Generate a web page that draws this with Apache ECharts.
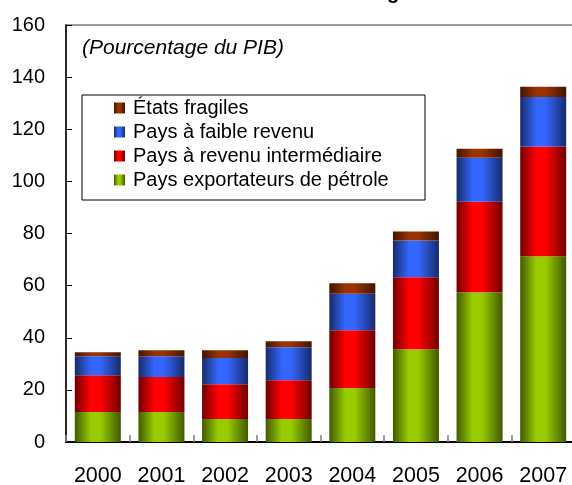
<!DOCTYPE html>
<html>
<head>
<meta charset="utf-8">
<script src="https://cdn.jsdelivr.net/npm/echarts@6/dist/echarts.min.js"></script>
<style>
html,body{margin:0;padding:0;background:#fff;}
#chart{width:572px;height:485px;}
</style>
</head>
<body>
<div id="chart"></div>
<script>
const years = ['2000','2001','2002','2003','2004','2005','2006','2007'];
const yTicks = [0,20,40,60,80,100,120,140,160];
const petrole = [11.5, 11.5, 8.8, 8.8, 20.7, 35.6, 57.5, 71.3];
const intermediaire = [14.1, 13.4, 13.4, 14.9, 22.2, 27.6, 34.7, 42.1];
const faible = [7.3, 8.0, 10.0, 12.7, 14.0, 14.1, 16.9, 19.0];
const fragiles = [1.5, 2.3, 3.0, 2.3, 4.0, 3.5, 3.4, 3.9];
const names = ['Pays exportateurs de pétrole','Pays à revenu intermédiaire','Pays à faible revenu','États fragiles'];

function cyl(dark, light) {
  return new echarts.graphic.LinearGradient(0,0,1,0,[
    {offset:0,color:dark},{offset:0.35,color:light},{offset:0.55,color:light},{offset:1,color:dark}
  ]);
}
const colors = [cyl('#425a00','#99cc00'), cyl('#700000','#ff0000'), cyl('#172b6a','#3366ff'), cyl('#441400','#993300')];
const dataSets = [petrole, intermediaire, faible, fragiles];
const FONT = 'Liberation Sans, Arial, sans-serif';

const chart = echarts.init(document.getElementById('chart'), null, {renderer:'canvas'});
chart.setOption({
  animation:false,
  backgroundColor:'#ffffff',
  textStyle:{fontFamily:FONT},
  grid:{left:66,right:-3,top:25,bottom:43,containLabel:false,outerBoundsMode:'none',show:true,borderColor:'#808080',borderWidth:1.5,backgroundColor:'transparent'},
  legend:{
    orient:'vertical', left:114, top:96, padding:0,
    data:[names[3],names[2],names[1],names[0]],
    itemWidth:11, itemHeight:11, itemGap:0,
    icon:'rect',
    selectedMode:false,
    textStyle:{fontSize:20,color:'#000',lineHeight:24,fontFamily:FONT,padding:[0,0,0,3]}
  },
  xAxis:{
    type:'category', data:years,
    axisLine:{lineStyle:{color:'#000',width:2}},
    axisTick:{show:true,inside:true,length:7,lineStyle:{color:'#808080',width:1.5}},
    axisLabel:{fontSize:21.5,color:'#000',margin:23,fontFamily:FONT}
  },
  yAxis:{
    type:'value', min:yTicks[0], max:yTicks[yTicks.length-1], interval:20,
    splitLine:{show:false},
    axisLine:{show:true,lineStyle:{color:'#000',width:1.5}},
    axisTick:{show:true,inside:true,length:6,lineStyle:{color:'#000',width:1}},
    axisLabel:{fontSize:20,color:'#000',margin:21,fontFamily:FONT}
  },
  graphic:[
    {type:'rect',shape:{x:82,y:95,width:343,height:105},style:{fill:'none',stroke:'#000',lineWidth:1},z:1},
    {type:'text',x:82,y:48,style:{text:'(Pourcentage du PIB)',fontSize:21,fontStyle:'italic',fill:'#000',fontFamily:FONT,verticalAlign:'middle'},z:5},
    {type:'text',x:387,y:-7,style:{text:'g',fontSize:20,fontWeight:'bold',fill:'#000',fontFamily:FONT,verticalAlign:'middle'},z:5}
  ],
  series: dataSets.map((d,i)=>({
    name:names[i], type:'bar', stack:'total', data:d, barWidth:46,
    itemStyle:{color:colors[i]},
    emphasis:{disabled:true}
  }))
});
</script>
</body>
</html>
